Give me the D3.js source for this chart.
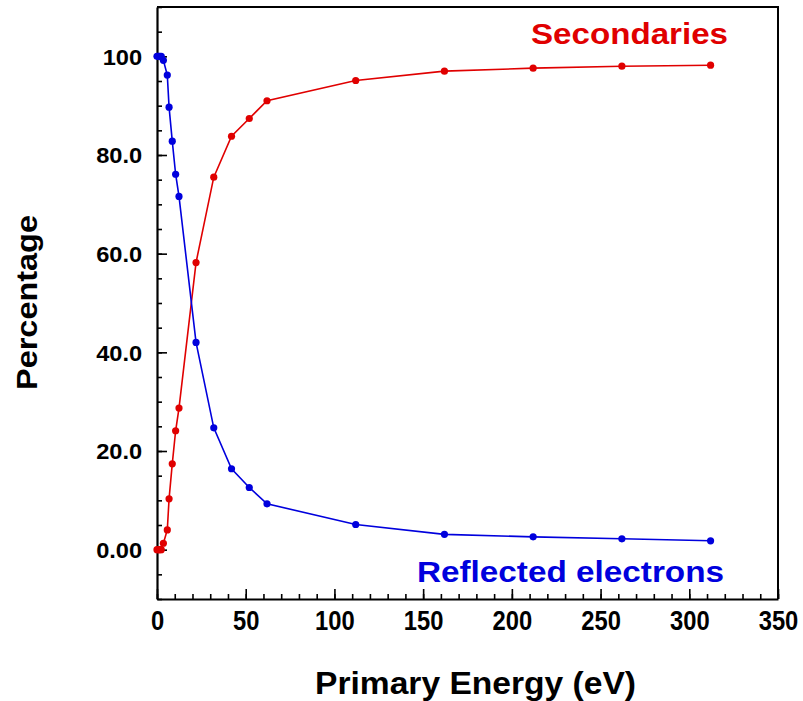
<!DOCTYPE html>
<html>
<head>
<meta charset="utf-8">
<script src="https://cdn.jsdelivr.net/npm/d3@7"></script>
<style>
  html, body { margin: 0; padding: 0; background: #fff; }
  svg { display: block; font-family: "Liberation Sans", Arial, sans-serif; }
</style>
</head>
<body>
<svg id="chart" width="803" height="701"></svg>
<script>
// Primary electron energy (eV) for each measurement
const energy = [0, 0.8, 1.6, 2.4, 3.6, 5.8, 6.8, 8.6, 10.5, 12.4, 22, 32, 42, 52, 62, 112, 162, 212, 262, 312];
// Share of secondary electrons (%)
const secondaries = [0, 0, 0, 0, 1.3, 4.0, 10.3, 17.4, 24.1, 28.7, 58.2, 75.5, 83.8, 87.4, 91.0, 95.1, 97.0, 97.6, 98.0, 98.2];
// Share of reflected electrons (%)
const reflected = [100, 100, 100, 100, 99.2, 96.2, 89.7, 82.8, 76.1, 71.6, 42.0, 24.7, 16.4, 12.6, 9.3, 5.1, 3.1, 2.6, 2.2, 1.8];

const xTicks = [0, 50, 100, 150, 200, 250, 300, 350];
const yTicks = [0, 20, 40, 60, 80, 100];
const yTickLabels = ["0.00", "20.0", "40.0", "60.0", "80.0", "100"];

const RED = "#e00000", BLUE = "#0000dd";

const svg = d3.select("#chart");
const plotLeft = 157, plotRight = 778, plotTop = 7, plotBottom = 599;

const x = d3.scaleLinear().domain([0, 350]).range([plotLeft, plotRight]);
const y = d3.scaleLinear().domain([-10, 110]).range([plotBottom, plotTop]);

// frame (top and right edges)
svg.append("path")
  .attr("d", `M${plotLeft},${plotTop}H${plotRight}V${plotBottom}`)
  .attr("fill", "none").attr("stroke", "#000").attr("stroke-width", 2);

// minor ticks
svg.append("g").attr("transform", `translate(0,${plotBottom})`)
  .call(d3.axisBottom(x).tickValues(d3.range(0, 351, 10)).tickSize(-5).tickFormat(""))
  .call(g => g.select(".domain").remove())
  .call(g => g.selectAll("line").attr("stroke-width", 1.6));
svg.append("g").attr("transform", `translate(${plotLeft},0)`)
  .call(d3.axisLeft(y).tickValues(d3.range(-10, 111, 5)).tickSize(-5).tickFormat(""))
  .call(g => g.select(".domain").remove())
  .call(g => g.selectAll("line").attr("stroke-width", 1.6));

// x axis
const xAxis = svg.append("g").attr("transform", `translate(0,${plotBottom})`)
  .call(d3.axisBottom(x).tickValues(xTicks).tickSize(-10).tickSizeOuter(0).tickPadding(0).tickFormat(d3.format("d")));
xAxis.select(".domain").attr("stroke-width", 2.2);
xAxis.selectAll("line").attr("stroke-width", 1.6);
xAxis.selectAll("text")
  .attr("y", 31).attr("dy", null)
  .attr("font-size", 27).attr("font-weight", "bold").attr("fill", "#000")
  .attr("font-family", "'Liberation Sans', Arial, sans-serif")
  .attr("transform", "scale(0.88,1)");

// y axis
const yAxis = svg.append("g").attr("transform", `translate(${plotLeft},0)`)
  .call(d3.axisLeft(y).tickValues(yTicks).tickSize(-10).tickSizeOuter(0).tickPadding(0)
    .tickFormat((d, i) => yTickLabels[i]));
yAxis.select(".domain").attr("stroke-width", 2.2);
yAxis.selectAll("line").attr("stroke-width", 1.6);
yAxis.selectAll("text")
  .attr("x", -13.5).attr("dy", "0.36em")
  .attr("font-size", 21.5).attr("font-weight", "bold").attr("fill", "#000")
  .attr("font-family", "'Liberation Sans', Arial, sans-serif")
  .attr("transform", "scale(1.1,1)");

// series
const series = [
  { values: secondaries, color: RED },
  { values: reflected, color: BLUE }
];
const line = d3.line().x(d => x(d[0])).y(d => y(d[1]));
series.forEach(s => {
  const pts = energy.map((e, i) => [e, s.values[i]]);
  svg.append("path").datum(pts)
    .attr("d", line).attr("fill", "none")
    .attr("stroke", s.color).attr("stroke-width", 1.6);
  svg.append("g").selectAll("circle").data(pts).join("circle")
    .attr("cx", d => x(d[0])).attr("cy", d => y(d[1])).attr("r", 3.6)
    .attr("fill", s.color);
});

// series labels
svg.append("text").text("Secondaries")
  .attr("x", 531).attr("y", 44)
  .attr("font-size", 30).attr("font-weight", "bold").attr("fill", RED)
  .attr("textLength", 197).attr("lengthAdjust", "spacingAndGlyphs");
svg.append("text").text("Reflected electrons")
  .attr("x", 417).attr("y", 582)
  .attr("font-size", 30).attr("font-weight", "bold").attr("fill", BLUE)
  .attr("textLength", 307).attr("lengthAdjust", "spacingAndGlyphs");

// axis titles
svg.append("text").text("Primary Energy (eV)")
  .attr("x", 315).attr("y", 694)
  .attr("font-size", 32).attr("font-weight", "bold").attr("fill", "#000")
  .attr("textLength", 321).attr("lengthAdjust", "spacingAndGlyphs");
svg.append("text").text("Percentage")
  .attr("transform", "translate(37,390) rotate(-90)")
  .attr("font-size", 30).attr("font-weight", "bold").attr("fill", "#000")
  .attr("textLength", 175).attr("lengthAdjust", "spacingAndGlyphs");
</script>
</body>
</html>
